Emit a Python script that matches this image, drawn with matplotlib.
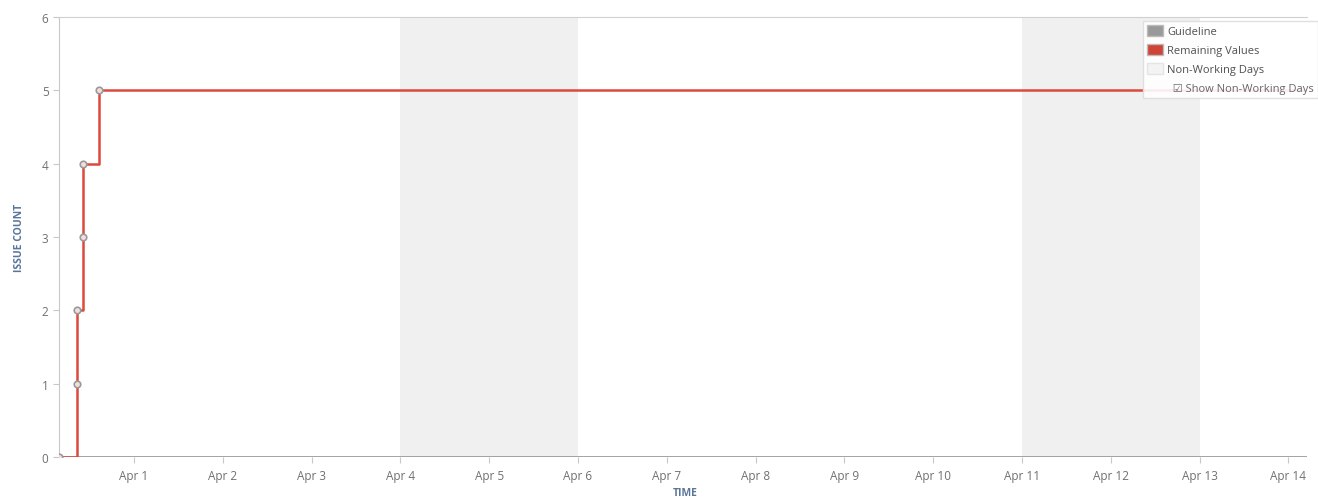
import pandas as pd
import matplotlib.pyplot as plt
from matplotlib.patches import Patch

plt.rcParams['font.family'] = ['Open Sans', 'DejaVu Sans']

# remaining values over time (step changes)
times = pd.to_datetime(['2015-03-31 03:43', '2015-03-31 08:36', '2015-03-31 08:36',
                        '2015-03-31 10:13', '2015-03-31 10:13', '2015-03-31 14:33'])
values = [0, 1, 2, 3, 4, 5]
now = pd.Timestamp('2015-04-14 05:02')

non_working = [('2015-04-04', '2015-04-06'), ('2015-04-11', '2015-04-13')]
tick_days = pd.date_range('2015-04-01', '2015-04-14', freq='D')
tick_labels = ['Apr %d' % d.day for d in tick_days]
y_ticks = [0, 1, 2, 3, 4, 5, 6]

red = '#dc4a3d'
fig = plt.figure(figsize=(13.18, 5.02), dpi=100)
ax = fig.add_axes([59 / 1318, 44 / 502, 1248 / 1318, 440 / 502])

for a, b in non_working:
    ax.axvspan(pd.Timestamp(a), pd.Timestamp(b), color='#f0f0f0', lw=0, zorder=0)

ax.axhline(0, color='#9a9a9a', lw=2, zorder=1)
ax.step(list(times) + [now], values + [values[-1]], where='post', color=red, lw=1.8, zorder=3)
ax.scatter(times, values, s=22, facecolor='#f2dede', edgecolor='#9a9a9a', linewidths=1.2, zorder=4)

ax.set_xlim(times[0], now)
ax.set_ylim(0, 6)
ax.set_xticks(tick_days)
ax.set_xticklabels(tick_labels)
ax.set_yticks(y_ticks)
ax.tick_params(axis='both', colors='#c8c8c8', labelcolor='#707070', labelsize=8.5, length=4, width=0.8)
ax.tick_params(axis='x', pad=5)

for s in ['right', 'bottom']:
    ax.spines[s].set_visible(False)
ax.spines['left'].set_color('#c8c8c8')
ax.spines['top'].set_color('#d0d0d0')

fig.text(20 / 1318, 1 - 238 / 502, 'ISSUE COUNT', rotation=90, ha='center', va='center',
         fontsize=7.5, fontweight='bold', color='#5b7599')
fig.text(685 / 1318, 1 - 494 / 502, 'TIME', ha='center', va='center',
         fontsize=7.5, fontweight='bold', color='#5b7599')

handles = [Patch(facecolor='#999999', edgecolor='#bbbbbb'),
           Patch(facecolor='#d04437', edgecolor='#bbbbbb'),
           Patch(facecolor='#f3f3f3', edgecolor='#e4e4e4'),
           Patch(alpha=0)]
labels = ['Guideline', 'Remaining Values', 'Non-Working Days', '  \u2611 Show Non-Working Days']
leg = fig.legend(handles, labels, loc='upper right', bbox_to_anchor=(1.0, 1 - 22 / 502),
                 fontsize=8, frameon=True, fancybox=False, handlelength=1.4, handleheight=1.1,
                 handletextpad=0.4, labelspacing=0.62, borderpad=0.35, borderaxespad=0)
leg.get_frame().set_edgecolor('#dddddd')
leg.get_frame().set_alpha(0.9)
for t in leg.get_texts():
    t.set_color('#505050')
leg.get_texts()[3].set_color('#666666')

fig.savefig('out.png', dpi=100)
